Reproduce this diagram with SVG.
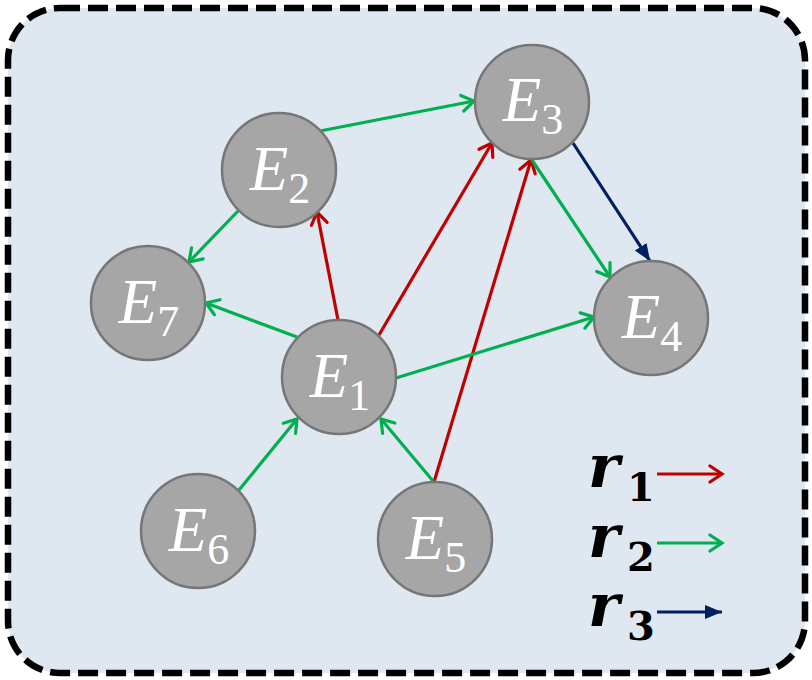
<svg xmlns="http://www.w3.org/2000/svg" width="812" height="680" viewBox="0 0 812 680">
<style>
.node circle{fill:#a6a6a6;stroke:#767676;stroke-width:2.5}
.node text{fill:#ffffff;font-family:"Liberation Serif","DejaVu Serif",serif;font-size:63px;text-anchor:middle}
.node .e{font-style:italic}
.node .s{font-size:44px}
.red{stroke:#c00000;stroke-width:3.2;fill:none}
.green{stroke:#00b050;stroke-width:3.2;fill:none}
.blue{stroke:#002060;stroke-width:3.2;fill:none}
.leg{font-family:"DejaVu Serif","Liberation Serif",serif;font-weight:bold;fill:#000}
</style>
<defs>
<marker id="mr" markerUnits="userSpaceOnUse" markerWidth="18" markerHeight="20" viewBox="0 0 18 20" refX="15" refY="10" orient="auto">
<path d="M3,2 L15,10 L3,18" fill="none" stroke="#c00000" stroke-width="3.2" stroke-linecap="round" stroke-linejoin="miter"/>
</marker>
<marker id="mg" markerUnits="userSpaceOnUse" markerWidth="18" markerHeight="20" viewBox="0 0 18 20" refX="15" refY="10" orient="auto">
<path d="M3,2 L15,10 L3,18" fill="none" stroke="#00b050" stroke-width="3.2" stroke-linecap="round" stroke-linejoin="miter"/>
</marker>
<marker id="mb" markerUnits="userSpaceOnUse" markerWidth="18" markerHeight="16" viewBox="0 0 18 16" refX="17" refY="8" orient="auto">
<path d="M0,1 L17,8 L0,15 Z" fill="#002060"/>
</marker>
</defs>
<rect x="8" y="8" width="797" height="665" rx="52" ry="52" fill="#dfe8f0" stroke="#000" stroke-width="6.5" stroke-dasharray="20 8"/>
<g id="connectors">
<line class="green" x1="320" y1="131" x2="474" y2="101" marker-end="url(#mg)"/>
<line class="green" x1="238" y1="211" x2="189" y2="262" marker-end="url(#mg)"/>
<line class="red" x1="338" y1="320" x2="317" y2="212" marker-end="url(#mr)"/>
<line class="green" x1="297" y1="337" x2="206" y2="303" marker-end="url(#mg)"/>
<line class="red" x1="379" y1="335" x2="492" y2="143" marker-end="url(#mr)"/>
<line class="red" x1="434" y1="482" x2="531" y2="160" marker-end="url(#mr)"/>
<line class="green" x1="532" y1="160" x2="610" y2="277" marker-end="url(#mg)"/>
<line class="blue" x1="573" y1="143" x2="650" y2="261" marker-end="url(#mb)"/>
<line class="green" x1="396" y1="378" x2="594" y2="317" marker-end="url(#mg)"/>
<line class="green" x1="239" y1="490" x2="297" y2="419" marker-end="url(#mg)"/>
<line class="green" x1="433" y1="481" x2="381" y2="419" marker-end="url(#mg)"/>
</g>
<g id="E1" class="node"><circle cx="339" cy="377" r="57"/><text x="340" y="397"><tspan class="e">E</tspan><tspan class="s" dy="13">1</tspan></text></g>
<g id="E2" class="node"><circle cx="279" cy="170" r="57"/><text x="280" y="190"><tspan class="e">E</tspan><tspan class="s" dy="13">2</tspan></text></g>
<g id="E3" class="node"><circle cx="532" cy="102" r="57"/><text x="533" y="121"><tspan class="e">E</tspan><tspan class="s" dy="13">3</tspan></text></g>
<g id="E4" class="node"><circle cx="651" cy="318" r="57"/><text x="652" y="338"><tspan class="e">E</tspan><tspan class="s" dy="13">4</tspan></text></g>
<g id="E5" class="node"><circle cx="435" cy="539" r="57"/><text x="436" y="559"><tspan class="e">E</tspan><tspan class="s" dy="13">5</tspan></text></g>
<g id="E6" class="node"><circle cx="198" cy="531" r="57"/><text x="199" y="551"><tspan class="e">E</tspan><tspan class="s" dy="13">6</tspan></text></g>
<g id="E7" class="node"><circle cx="148" cy="303" r="57"/><text x="149" y="323"><tspan class="e">E</tspan><tspan class="s" dy="13">7</tspan></text></g>
<g id="legend">
<text class="leg" x="588" y="487" font-size="60" font-style="italic">r</text>
<text class="leg" x="627" y="501" font-size="40">1</text>
<line class="red" x1="657" y1="474" x2="722" y2="474" marker-end="url(#mr)"/>
<text class="leg" x="588" y="557" font-size="60" font-style="italic">r</text>
<text class="leg" x="627" y="571" font-size="40">2</text>
<line class="green" x1="657" y1="543" x2="722" y2="543" marker-end="url(#mg)"/>
<text class="leg" x="588" y="626" font-size="60" font-style="italic">r</text>
<text class="leg" x="627" y="640" font-size="40">3</text>
<line class="blue" x1="657" y1="612" x2="722" y2="612" marker-end="url(#mb)"/>
</g>
</svg>
